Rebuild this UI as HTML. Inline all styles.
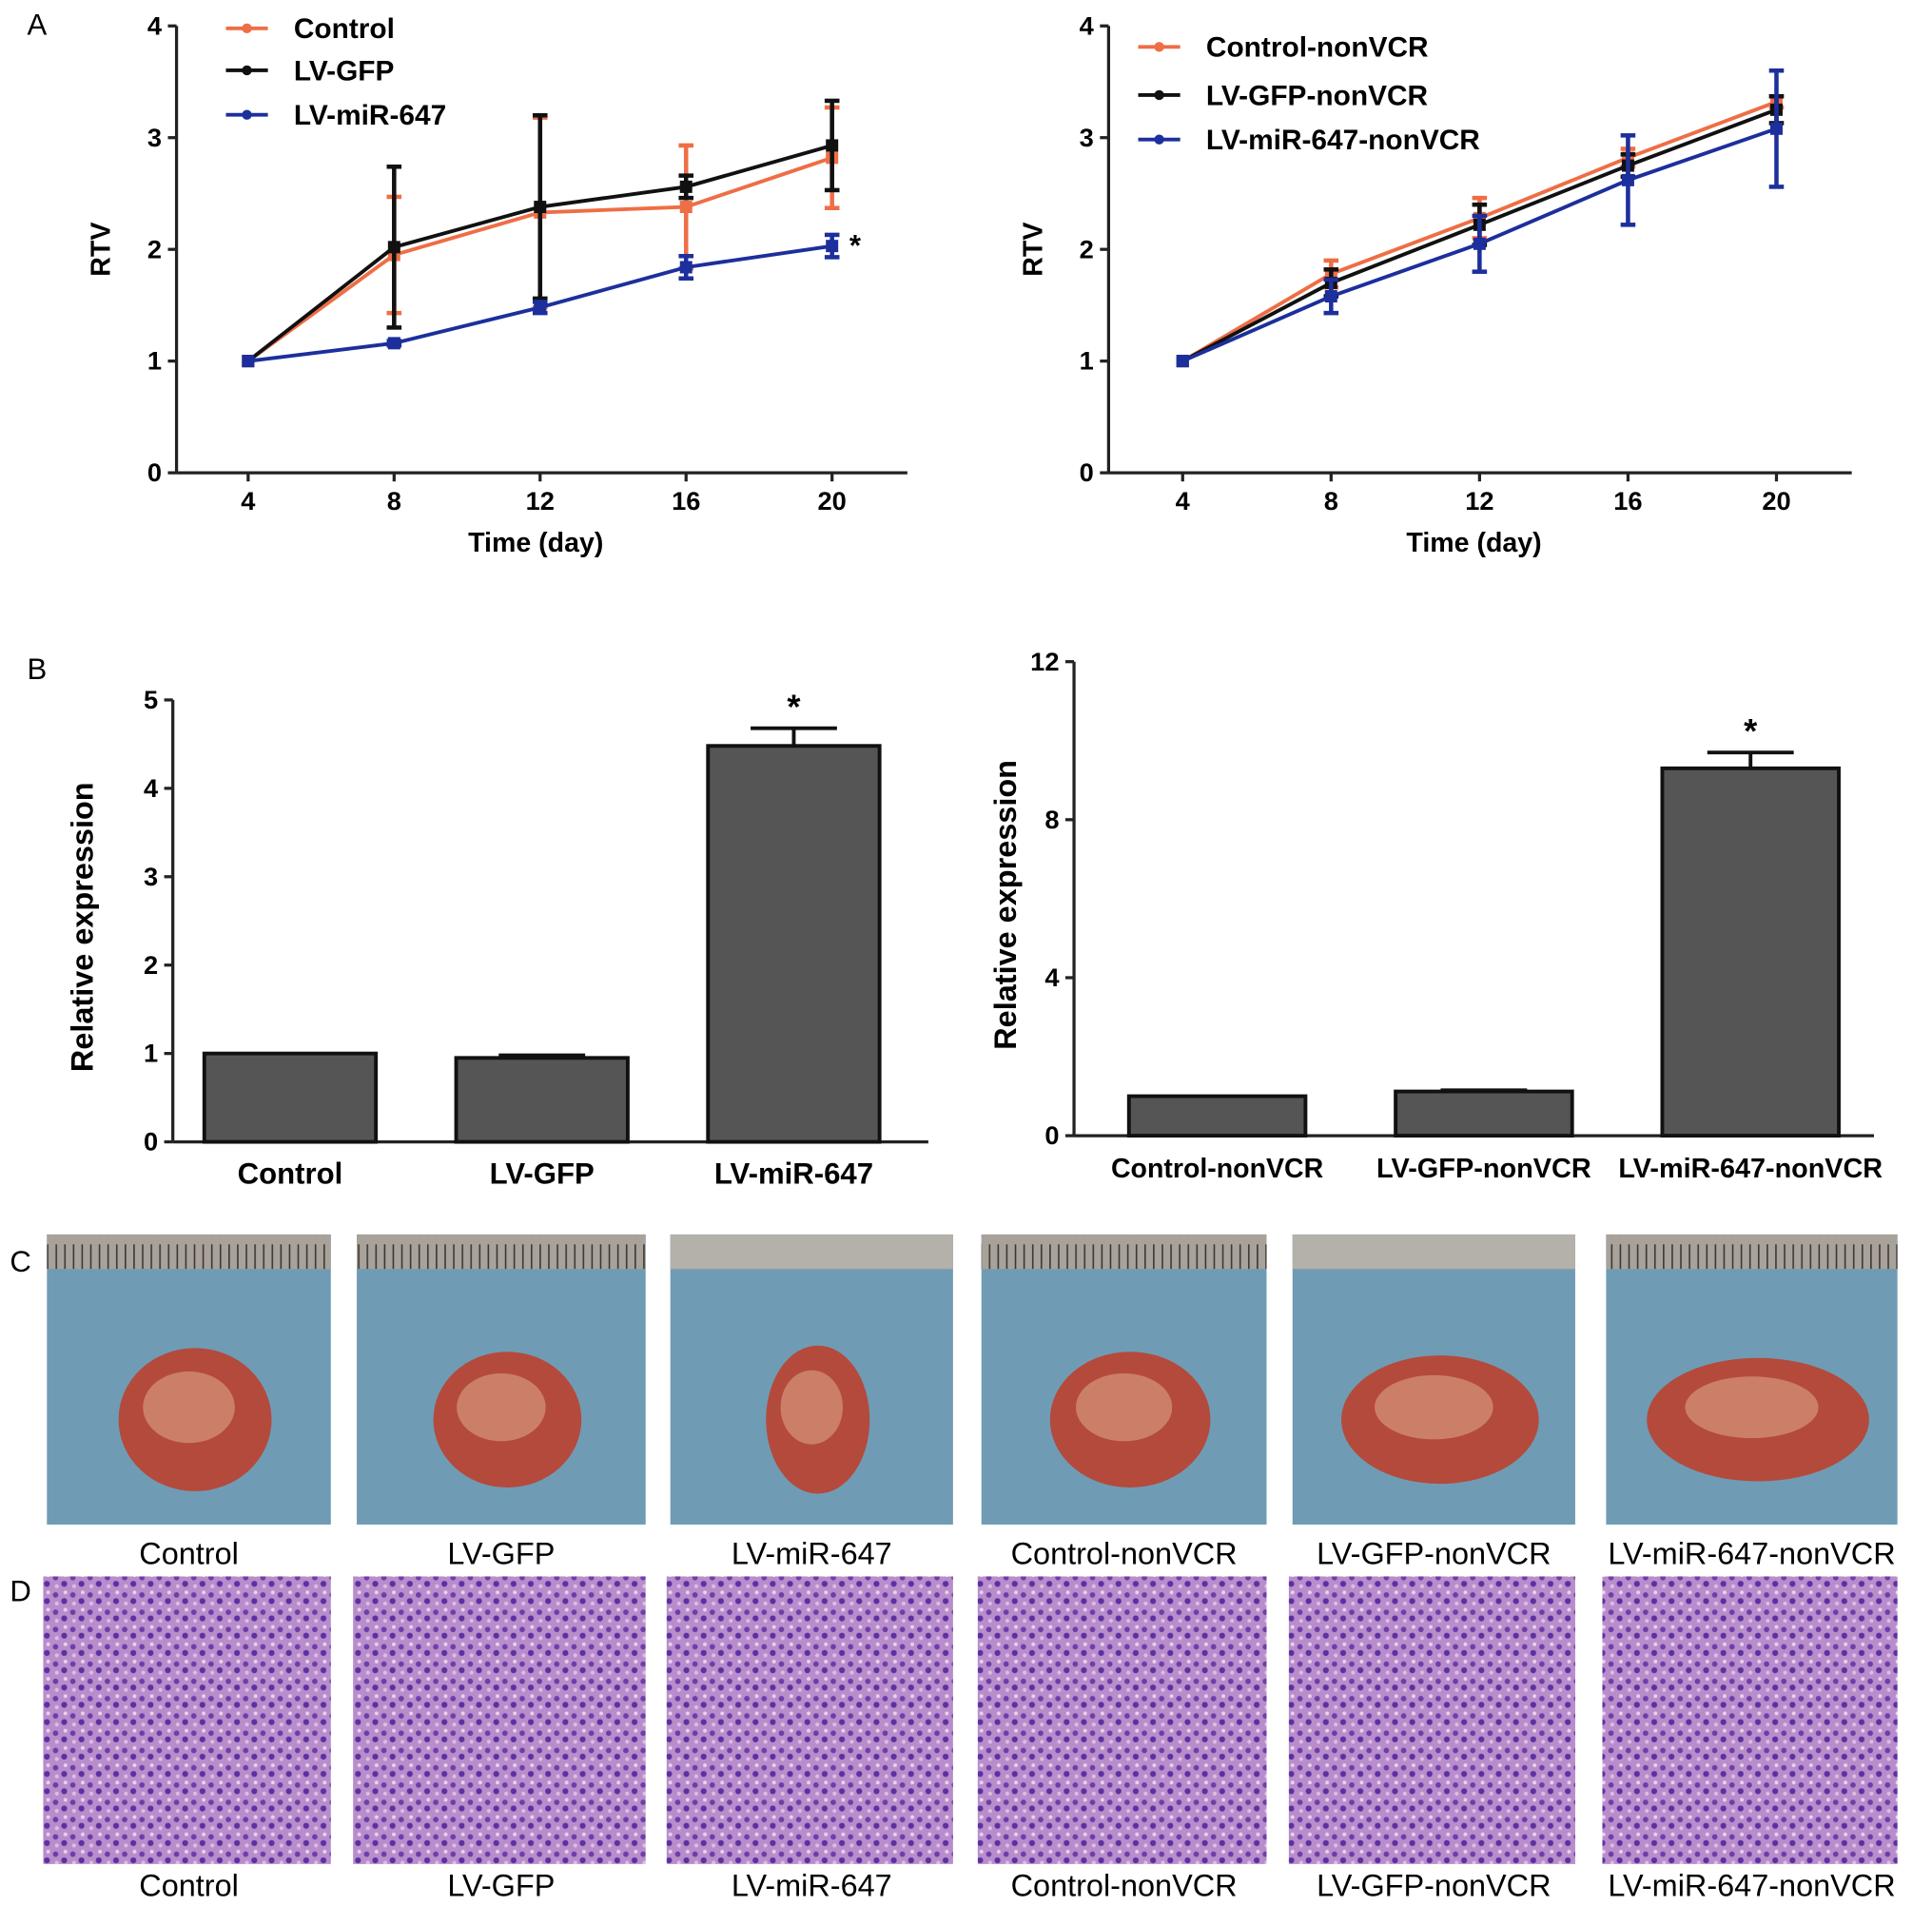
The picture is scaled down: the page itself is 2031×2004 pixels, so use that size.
<!DOCTYPE html>
<html><head><meta charset="utf-8"><style>
html,body{margin:0;padding:0;background:#fff;}
svg{display:block;font-family:"Liberation Sans",Arial,sans-serif;}
</style></head><body>
<svg id="fig" width="2031" height="2004" viewBox="0 0 1565 1544" preserveAspectRatio="none" xmlns="http://www.w3.org/2000/svg">
<defs>
<pattern id="cells" width="14" height="14" patternUnits="userSpaceOnUse">
<rect width="14" height="14" fill="#b98ccc"/>
<circle cx="3" cy="4" r="2.2" fill="#6a3fa8"/><circle cx="10" cy="9" r="2.4" fill="#5a32a0"/>
<circle cx="11" cy="2" r="1.5" fill="#e6d4ec"/><circle cx="4" cy="11" r="1.6" fill="#d9c0e4"/>
</pattern>
<pattern id="ruler" width="7" height="28" patternUnits="userSpaceOnUse">
<rect width="7" height="28" fill="#a8a29a"/><rect x="3" y="0" width="1.2" height="20" fill="#3a3530"/>
</pattern>
</defs>
<text x="22" y="28" font-size="24">A</text>
<text x="22" y="550" font-size="24">B</text>
<text x="8" y="1030" font-size="24">C</text>
<text x="8" y="1297" font-size="24">D</text>
<g id="a1"></g><g id="a2"></g><g id="b1"></g><g id="b2"></g><g id="photos"></g>
</svg>
<script>
const NS="http://www.w3.org/2000/svg";
function el(tag,attrs,parent,txt){const e=document.createElementNS(NS,tag);for(const k in attrs)e.setAttribute(k,attrs[k]);if(txt!==undefined)e.textContent=txt;parent.appendChild(e);return e;}

// ---- Panel A data ----
const days=[4,8,12,16,20];
const a1Names=["Control","LV-GFP","LV-miR-647"];
const a1Control=[1,1.95,2.33,2.38,2.82];
const a1ControlErr=[0,0.52,0.85,0.55,0.45];
const a1Gfp=[1,2.02,2.38,2.56,2.93];
const a1GfpErr=[0,0.72,0.82,0.1,0.4];
const a1Mir=[1,1.16,1.48,1.84,2.03];
const a1MirErr=[0,0.02,0.05,0.1,0.1];
const a2Names=["Control-nonVCR","LV-GFP-nonVCR","LV-miR-647-nonVCR"];
const a2Control=[1,1.78,2.28,2.82,3.32];
const a2ControlErr=[0,0.12,0.18,0.08,0.05];
const a2Gfp=[1,1.7,2.22,2.75,3.25];
const a2GfpErr=[0,0.12,0.18,0.1,0.12];
const a2Mir=[1,1.58,2.05,2.62,3.08];
const a2MirErr=[0,0.15,0.25,0.4,0.52];
const yTicksA=[0,1,2,3,4];
// ---- Panel B data ----
const b1Cats=["Control","LV-GFP","LV-miR-647"];
const b1Vals=[1.0,0.95,4.48];
const b1Err=[0,0.03,0.2];
const b1Ticks=[0,1,2,3,4,5];
const b2Cats=["Control-nonVCR","LV-GFP-nonVCR","LV-miR-647-nonVCR"];
const b2Vals=[1.0,1.12,9.3];
const b2Err=[0,0.03,0.4];
const b2Ticks=[0,4,8,12];
const photoLabels=["Control","LV-GFP","LV-miR-647","Control-nonVCR","LV-GFP-nonVCR","LV-miR-647-nonVCR"];

const colors=["#ee6e45","#111111","#1c2f9c"];

function lineChart(g,cfg){
  const X=d=>cfg.x0+(d-4)/16*(cfg.x1-cfg.x0);
  const Y=v=>cfg.y0-v/4*(cfg.y0-cfg.y4);
  el("line",{x1:cfg.ax,y1:cfg.y4,x2:cfg.ax,y2:cfg.y0,stroke:"#222","stroke-width":2.5},g);
  el("line",{x1:cfg.ax,y1:cfg.y0,x2:cfg.axEnd,y2:cfg.y0,stroke:"#222","stroke-width":2.5},g);
  yTicksA.forEach(t=>{
    const y=Y(t);
    el("line",{x1:cfg.ax-7,y1:y,x2:cfg.ax,y2:y,stroke:"#222","stroke-width":2.5},g);
    const tx=el("text",{x:cfg.ax-12,y:y+7,"font-size":21,"font-weight":"bold","text-anchor":"end"},g,t);
    
    
  });
  days.forEach(d=>{
    const x=X(d);
    el("line",{x1:x,y1:cfg.y0,x2:x,y2:cfg.y0+7,stroke:"#222","stroke-width":2.5},g);
    const tx=el("text",{x:x,y:cfg.y0+30,"font-size":21,"font-weight":"bold","text-anchor":"middle"},g,d);
    
    
  });
  const xt=el("text",{x:(cfg.ax+cfg.axEnd)/2-5,y:cfg.y0+64,"font-size":22,"font-weight":"bold","text-anchor":"middle"},g,"Time  (day)");
  
  
  const yt=el("text",{x:0,y:0,"font-size":22,"font-weight":"bold","text-anchor":"middle",transform:`translate(${cfg.ax-54},${(cfg.y0+cfg.y4)/2}) rotate(-90)`},g,"RTV");
  
  
  cfg.series.forEach((s,i)=>{
    const c=colors[i];
    const pts=s.v.map((v,j)=>X(days[j])+","+Y(v)).join(" ");
    const pl=el("polyline",{points:pts,fill:"none",stroke:c,"stroke-width":3},g);
    
    
    s.v.forEach((v,j)=>{
      const x=X(days[j]),e=s.e[j];
      if(e>0){
        el("line",{x1:x,y1:Y(v-e),x2:x,y2:Y(v+e),stroke:c,"stroke-width":3.5},g);
        el("line",{x1:x-6,y1:Y(v+e),x2:x+6,y2:Y(v+e),stroke:c,"stroke-width":3.5},g);
        el("line",{x1:x-6,y1:Y(v-e),x2:x+6,y2:Y(v-e),stroke:c,"stroke-width":3.5},g);
      }
      const m=el("rect",{x:x-5,y:Y(v)-5,width:10,height:10,fill:c},g);
      
      
    });
    const ly=cfg.legY[i];
    el("line",{x1:cfg.legX,y1:ly,x2:cfg.legX+34,y2:ly,stroke:c,"stroke-width":3},g);
    el("circle",{cx:cfg.legX+17,cy:ly,r:4,fill:c},g);
    const lt=el("text",{x:cfg.legX+55,y:ly+8,"font-size":23,"font-weight":"bold"},g,cfg.names[i]);
    
    
  });
  if(cfg.star){const st=el("text",{x:X(20)+14,y:Y(cfg.star)+12,"font-size":24,"font-weight":"bold"},g,"*");}
}
lineChart(document.getElementById("a1"),{ax:143,axEnd:735,x0:201,x1:674,y0:383,y4:21,legX:183,legY:[23,57,93],names:a1Names,star:a1Mir[4]+0.05,
  series:[{v:a1Control,e:a1ControlErr},{v:a1Gfp,e:a1GfpErr},{v:a1Mir,e:a1MirErr}]});
lineChart(document.getElementById("a2"),{ax:898,axEnd:1500,x0:958,x1:1439,y0:383,y4:21,legX:922,legY:[38,77,113],names:a2Names,
  series:[{v:a2Control,e:a2ControlErr},{v:a2Gfp,e:a2GfpErr},{v:a2Mir,e:a2MirErr}]});

function barChart(g,cfg){
  const max=cfg.ticks[cfg.ticks.length-1];
  const Y=v=>cfg.y0-v/max*(cfg.y0-cfg.yTop);
  el("line",{x1:cfg.ax,y1:cfg.yTop,x2:cfg.ax,y2:cfg.y0,stroke:"#222","stroke-width":2.5},g);
  el("line",{x1:cfg.ax,y1:cfg.y0,x2:cfg.axEnd,y2:cfg.y0,stroke:"#222","stroke-width":2.5},g);
  cfg.ticks.forEach(t=>{
    const y=Y(t);
    el("line",{x1:cfg.ax-7,y1:y,x2:cfg.ax,y2:y,stroke:"#222","stroke-width":2.5},g);
    const tx=el("text",{x:cfg.ax-12,y:y+7,"font-size":21,"font-weight":"bold","text-anchor":"end"},g,t);
    
    
  });
  const yt=el("text",{x:0,y:0,"font-size":25,"font-weight":"bold","text-anchor":"middle",transform:`translate(${cfg.ax-cfg.titleOff},${(cfg.y0+cfg.yTop)/2+5}) rotate(-90)`},g,"Relative expression");
  
  
  const slot=(cfg.axEnd-cfg.ax)/cfg.cats.length;
  cfg.cats.forEach((c,i)=>{
    const cx=cfg.ax+slot*(i+0.5)-cfg.shift;
    const v=cfg.vals[i],e=cfg.err[i];
    if(e>0){
      el("line",{x1:cx,y1:Y(v),x2:cx,y2:Y(v+e),stroke:"#111","stroke-width":3},g);
      el("line",{x1:cx-35,y1:Y(v+e),x2:cx+35,y2:Y(v+e),stroke:"#111","stroke-width":3},g);
    }
    const b=el("rect",{x:cx-cfg.bw/2,y:Y(v),width:cfg.bw,height:cfg.y0-Y(v),fill:"#555","stroke":"#111","stroke-width":3},g);
    
    
    const attrs={x:cx,y:cfg.y0+34,"font-size":cfg.fs,"font-weight":"bold","text-anchor":"middle"};
    if(cfg.tl){attrs.textLength=cfg.tl[i];attrs.lengthAdjust="spacingAndGlyphs";}
    const lt=el("text",attrs,g,c);
    
    
    if(i===2){const st=el("text",{x:cx,y:Y(v+e)-8,"font-size":28,"font-weight":"bold","text-anchor":"middle"},g,"*");}
  });
}
barChart(document.getElementById("b1"),{ax:140,axEnd:752,y0:925,yTop:567,ticks:b1Ticks,cats:b1Cats,vals:b1Vals,err:b1Err,bw:139,fs:24,shift:7,titleOff:65});
barChart(document.getElementById("b2"),{ax:870,axEnd:1518,y0:920,yTop:536,ticks:b2Ticks,cats:b2Cats,vals:b2Vals,err:b2Err,bw:143,fs:22,shift:-8,tl:[172,174,214],titleOff:47});

const pg=document.getElementById("photos");
const px=[[38,268],[289,523],[543,772],[795,1026],[1047,1276],[1301,1537]];
const tumorR=[[62,58],[60,55],[42,60],[65,55],[80,52],[90,50]];
px.forEach((p,i)=>{
  const w=p[1]-p[0],cx=(p[0]+p[1])/2;
  const ph=el("g",{},pg);
  
  
  el("rect",{x:p[0],y:1000,width:w,height:235,fill:"#6f9cb4"},ph);
  el("rect",{x:p[0],y:1000,width:w,height:28,fill:i===2||i===4?"#b4b0aa":"url(#ruler)"},ph);
  el("ellipse",{cx:cx+5,cy:1150,rx:tumorR[i][0],ry:tumorR[i][1],fill:"#b44a3c"},ph);
  el("ellipse",{cx:cx,cy:1140,rx:tumorR[i][0]*0.6,ry:tumorR[i][1]*0.5,fill:"#d4967a",opacity:0.7},ph);
  const l1=el("text",{x:cx,y:1267,"font-size":25,"text-anchor":"middle"},pg,photoLabels[i]);
  
  
  const h=el("rect",{x:p[0]-3,y:1277,width:w+3,height:233,fill:"url(#cells)"},pg);
  
  
  const l2=el("text",{x:cx,y:1536,"font-size":25,"text-anchor":"middle"},pg,photoLabels[i]);
  
  
});
</script>
</body></html>
